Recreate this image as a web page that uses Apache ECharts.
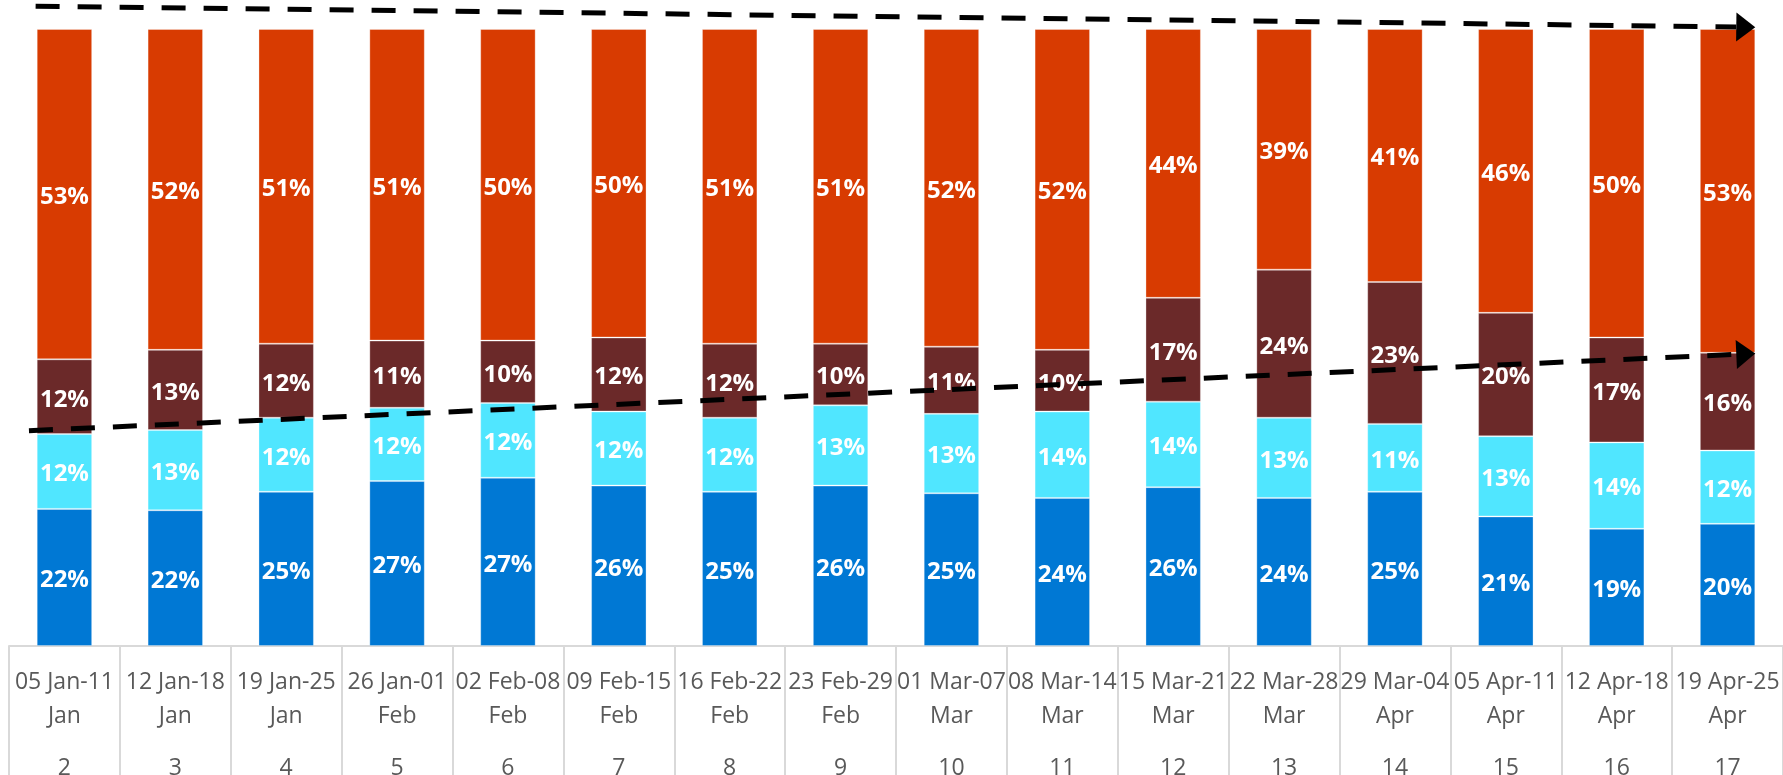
<!DOCTYPE html>
<html>
<head>
<meta charset="utf-8">
<title>Weekly share by segment</title>
<script src="https://cdn.jsdelivr.net/npm/echarts@6/dist/echarts.min.js"></script>
<style>
  html, body { margin: 0; padding: 0; background: #fff; }
  #chart { width: 1783px; height: 775px; }
</style>
</head>
<body>
<div id="chart"></div>
<script>
// Week date ranges (two text lines) and ISO week numbers
const weekRanges = [
  ['05 Jan-11', 'Jan'], ['12 Jan-18', 'Jan'], ['19 Jan-25', 'Jan'], ['26 Jan-01', 'Feb'],
  ['02 Feb-08', 'Feb'], ['09 Feb-15', 'Feb'], ['16 Feb-22', 'Feb'], ['23 Feb-29', 'Feb'],
  ['01 Mar-07', 'Mar'], ['08 Mar-14', 'Mar'], ['15 Mar-21', 'Mar'], ['22 Mar-28', 'Mar'],
  ['29 Mar-04', 'Apr'], ['05 Apr-11', 'Apr'], ['12 Apr-18', 'Apr'], ['19 Apr-25', 'Apr']
];
const weekNumbers = [2, 3, 4, 5, 6, 7, 8, 9, 10, 11, 12, 13, 14, 15, 16, 17];

// Percent shares per week, bottom to top of each stack
const shareBlue  = [22, 22, 25, 27, 27, 26, 25, 26, 25, 24, 26, 24, 25, 21, 19, 20];
const shareCyan  = [12, 13, 12, 12, 12, 12, 12, 13, 13, 14, 14, 13, 11, 13, 14, 12];
const shareBrown = [12, 13, 12, 11, 10, 12, 12, 10, 11, 10, 17, 24, 23, 20, 17, 16];
const shareRed   = [53, 52, 51, 51, 50, 50, 51, 51, 52, 52, 44, 39, 41, 46, 50, 53];

const seriesColors = ['#0078D4', '#50E6FF', '#6B2929', '#D83B01'];
const seriesShares = [shareBlue, shareCyan, shareBrown, shareRed];

// 100% stacked: each column is scaled by its own total so stacks fill the plot
const totals = weekNumbers.map((_, i) => seriesShares.reduce((s, arr) => s + arr[i], 0));

const categories = weekRanges.map((r, i) => r[0] + '|' + r[1] + '|' + weekNumbers[i]);

const FONT = '"Open Sans", "Noto Sans", sans-serif';

const chart = echarts.init(document.getElementById('chart'), null, { renderer: 'canvas' });

const series = seriesShares.map((arr, k) => ({
  type: 'bar',
  stack: 'share',
  barWidth: '50%',
  itemStyle: {
    color: seriesColors[k],
    borderColor: 'rgba(255,255,255,0.3)',
    borderWidth: 1
  },
  label: {
    show: true,
    position: 'inside',
    offset: [0, 3],
    color: '#ffffff',
    fontFamily: FONT,
    fontWeight: 'bold',
    fontSize: 24,
    formatter: p => arr[p.dataIndex] + '%'
  },
  data: arr.map((v, i) => ({ value: v / totals[i] * 100 }))
}));

chart.setOption({
  animation: false,
  backgroundColor: '#ffffff',
  grid: { left: 9, right: 0, top: 29, bottom: 129, outerBoundsMode: 'none', containLabel: false },
  xAxis: {
    type: 'category',
    data: categories,
    axisLine: { show: true, lineStyle: { color: '#d9d9d9', width: 2 } },
    axisTick: { show: true, interval: 0, length: 140, lineStyle: { color: '#d9d9d9', width: 2 } },
    axisLabel: {
      interval: 0,
      margin: 19,
      color: '#595959',
      fontFamily: FONT,
      fontSize: 23,
      formatter: v => {
        const parts = v.split('|');
        return '{a|' + parts[0] + '}\n{a|' + parts[1] + '}\n{b|' + parts[2] + '}';
      },
      rich: {
        a: { fontFamily: FONT, fontSize: 23, color: '#595959', lineHeight: 34 },
        b: { fontFamily: FONT, fontSize: 23, color: '#595959', lineHeight: 71 }
      }
    }
  },
  yAxis: { type: 'value', min: 0, max: 100, show: false, splitLine: { show: false } },
  series: series
});

// Dashed trend arrows, placed in category/value space
function toPx(catPos, val) {
  const c0 = chart.convertToPixel({ xAxisIndex: 0 }, 0);
  const c1 = chart.convertToPixel({ xAxisIndex: 0 }, 1);
  const x = c0 + (c1 - c0) * catPos;
  const y = chart.convertToPixel({ yAxisIndex: 0 }, val);
  return [x, y];
}

function arrow(p0, p1) {
  const dx = p1[0] - p0[0], dy = p1[1] - p0[1];
  const len = Math.sqrt(dx * dx + dy * dy);
  const ux = dx / len, uy = dy / len;
  const headLen = 19, headHalf = 14.5;
  const bx = p1[0] - ux * headLen, by = p1[1] - uy * headLen;
  return [
    {
      type: 'line',
      z: 100,
      shape: { x1: p0[0], y1: p0[1], x2: bx, y2: by },
      style: { stroke: '#000', lineWidth: 5, lineDash: [24, 18] }
    },
    {
      type: 'polygon',
      z: 100,
      shape: {
        points: [
          [p1[0], p1[1]],
          [bx - uy * headHalf, by + ux * headHalf],
          [bx + uy * headHalf, by - ux * headHalf]
        ]
      },
      style: { fill: '#000' }
    }
  ];
}

const topArrow = arrow(toPx(-0.26, 103.7), toPx(15.25, 100.3));
const lowArrow = arrow(toPx(-0.32, 34.9), toPx(15.25, 47.4));

chart.setOption({ graphic: topArrow.concat(lowArrow) });
</script>
</body>
</html>
